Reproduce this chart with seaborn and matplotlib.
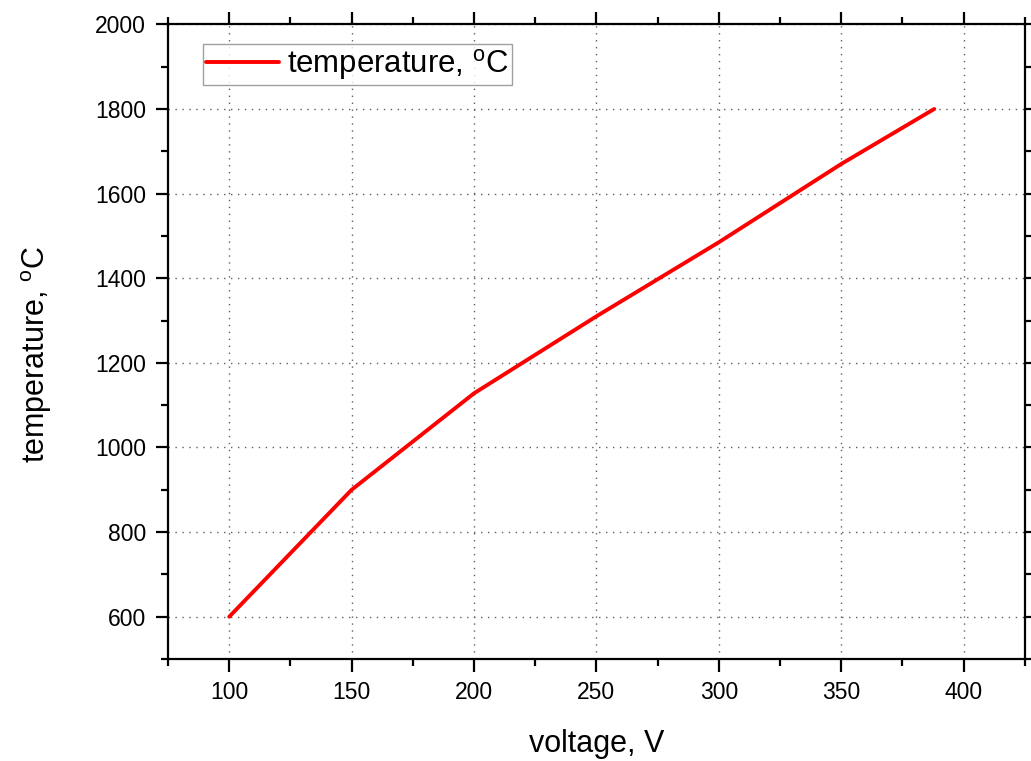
import matplotlib
matplotlib.use("Agg")
import matplotlib.pyplot as plt
from matplotlib.ticker import MultipleLocator
import seaborn as sns
import pandas as pd

# Heater temperature as a function of supply voltage
voltage = [100, 150, 200, 250, 300, 350, 388]
temperature = [600, 900, 1128, 1310, 1485, 1670, 1800]

x_label = "voltage, V"
y_label = r"temperature, $^{\mathrm{o}}$C"
series_label = r"temperature, $^{\mathrm{o}}$C"

sns.set_style("ticks")
plt.rcParams["font.family"] = ["Liberation Sans", "DejaVu Sans"]
plt.rcParams["mathtext.fontset"] = "custom"
plt.rcParams["mathtext.rm"] = "Liberation Sans"
plt.rcParams["mathtext.it"] = "Liberation Sans:italic"
plt.rcParams["text.color"] = "black"
plt.rcParams["axes.labelcolor"] = "black"
plt.rcParams["xtick.color"] = "black"
plt.rcParams["ytick.color"] = "black"

df = pd.DataFrame({"voltage": voltage, "temperature": temperature})

fig = plt.figure(figsize=(10.31, 7.61), dpi=100)
ax = fig.add_axes([0.163, 0.134, 0.831, 0.834])

sns.lineplot(data=df, x="voltage", y="temperature", ax=ax, color="#ff0000",
             linewidth=2.8, label=series_label, sort=False)

ax.set_xlim(75, 425)
ax.set_ylim(500, 2000)
ax.xaxis.set_major_locator(MultipleLocator(50))
ax.xaxis.set_minor_locator(MultipleLocator(25))
ax.yaxis.set_major_locator(MultipleLocator(200))
ax.yaxis.set_minor_locator(MultipleLocator(100))
ax.set_xticks([100, 150, 200, 250, 300, 350, 400])
ax.set_yticks([600, 800, 1000, 1200, 1400, 1600, 1800, 2000])

ax.grid(True, which="major", linestyle=(0, (1, 4)), color="#606060", linewidth=1.0)

for s in ax.spines.values():
    s.set_visible(True)
    s.set_linewidth(1.6)
    s.set_color("black")

ax.tick_params(which="both", direction="out", top=True, right=True,
               labeltop=False, labelright=False, color="black", width=1.6,
               labelsize=16.5, labelcolor="black", pad=7)
ax.tick_params(which="major", length=9)
ax.tick_params(which="minor", length=5)

ax.set_xlabel(x_label, fontsize=22, labelpad=18, color="black")
ax.set_ylabel(y_label, fontsize=22, color="black")
ax.yaxis.set_label_coords(-0.133, 0.48)

leg = ax.legend(loc="upper left", bbox_to_anchor=(0.041, 0.969), borderaxespad=0,
                fontsize=22.4, frameon=True, fancybox=False, handlelength=2.35,
                handletextpad=0.25, borderpad=0.1)
leg.get_frame().set_edgecolor("#888888")
leg.get_frame().set_linewidth(1.0)
for t in leg.get_texts():
    t.set_color("black")

fig.savefig("out.png", dpi=100)
